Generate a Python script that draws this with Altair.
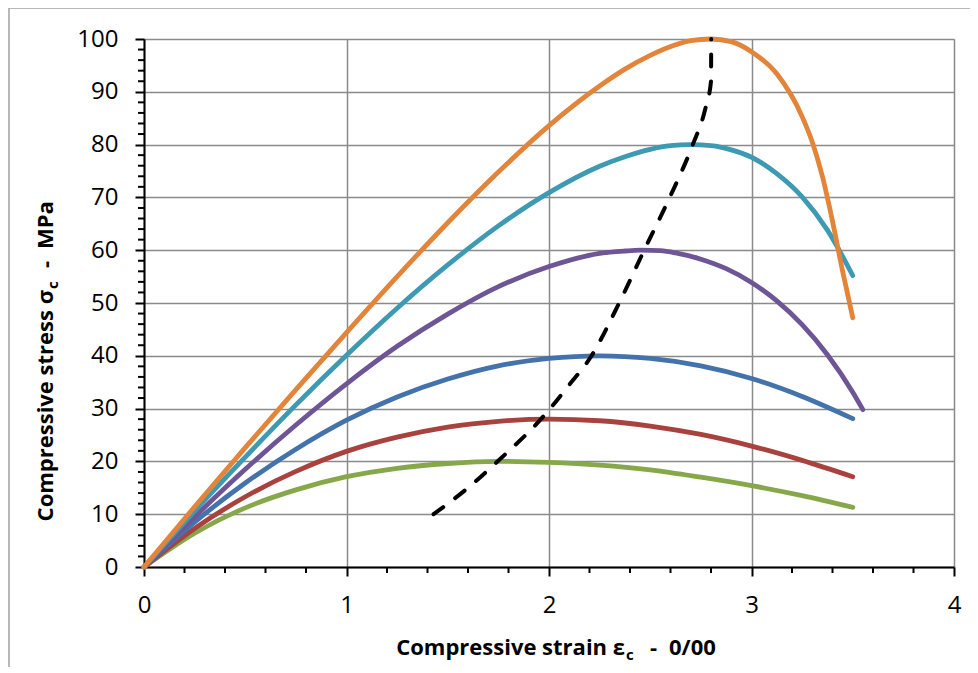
import altair as alt
import pandas as pd

# ---------------- data ----------------
strain_grid = [0, 0.25, 0.5, 0.75, 1.0, 1.25, 1.5, 1.75, 2.0, 2.25, 2.5, 2.75, 3.0, 3.25, 3.5]

green_x = strain_grid
green_y = [0, 6.4, 11.2, 14.6, 17.1, 18.7, 19.6, 20.0, 19.8, 19.3, 18.4, 17.0, 15.4, 13.5, 11.3]

red_x = strain_grid
red_y = [0, 7.3, 13.3, 18.1, 21.9, 24.6, 26.5, 27.6, 28.0, 27.7, 26.7, 25.1, 22.9, 20.2, 17.1]

blue_x = strain_grid
blue_y = [0, 8.5, 15.9, 22.3, 27.8, 32.2, 35.6, 38.1, 39.5, 40.0, 39.5, 38.1, 35.7, 32.3, 28.1]

purple_x = [0, 0.25, 0.5, 0.75, 1.0, 1.25, 1.5, 1.75, 2.0, 2.25, 2.375, 2.45, 2.55, 2.625, 2.75,
            2.875, 3.0, 3.125, 3.25, 3.375, 3.5, 3.55]
purple_y = [0, 9.5, 18.5, 26.9, 34.7, 41.8, 47.9, 53.1, 56.9, 59.4, 59.85, 60.0, 59.9, 59.5, 58.3,
            56.5, 53.9, 50.4, 45.9, 40.2, 33.1, 29.8]

teal_x = [0, 0.25, 0.5, 0.75, 1.0, 1.25, 1.5, 1.75, 2.0, 2.25, 2.375, 2.5, 2.6, 2.7, 2.8,
          2.9, 3.0, 3.125, 3.25, 3.375, 3.5]
teal_y = [0, 10.6, 20.8, 30.7, 40.1, 49.0, 57.2, 64.6, 70.9, 75.9, 77.7, 79.1, 79.8, 80.0, 79.8,
          79.0, 77.6, 74.5, 70.1, 63.8, 55.2]

orange_x = [0, 0.25, 0.5, 0.75, 1.0, 1.25, 1.5, 1.75, 2.0, 2.25, 2.375, 2.5, 2.625, 2.7, 2.8,
            2.9, 3.0, 3.125, 3.25, 3.3, 3.35, 3.4, 3.45, 3.5]
orange_y = [0, 11.4, 22.6, 33.6, 44.4, 55.0, 65.2, 74.8, 83.6, 91.1, 94.3, 96.9, 98.9, 99.7, 100.0,
            99.5, 97.6, 93.4, 85.3, 80.5, 74.0, 65.5, 56.0, 47.2]

peak_x = [1.43, 1.60, 1.76, 1.96, 2.10, 2.21, 2.34, 2.47, 2.59, 2.71, 2.77, 2.80, 2.801]
peak_y = [10, 15, 20.5, 28, 34.5, 40, 49.5, 60, 69.5, 80, 86.5, 92, 100]

series_names = ["20 MPa", "28 MPa", "40 MPa", "60 MPa", "80 MPa", "100 MPa"]
series_colors = ["#86A84A", "#A8423E", "#4472AA", "#6E5596", "#3E9AB2", "#E2843A"]
series_data = [(green_x, green_y), (red_x, red_y), (blue_x, blue_y),
               (purple_x, purple_y), (teal_x, teal_y), (orange_x, orange_y)]

x_major = [0, 1, 2, 3, 4]
y_major = [0, 10, 20, 30, 40, 50, 60, 70, 80, 90, 100]
x_minor = [round(i * 0.2, 1) for i in range(1, 20) if i % 5]
y_minor = [i * 2 for i in range(1, 50) if i % 5]

# ---------------- tables ----------------
rows = []
for name, (xs, ys) in zip(series_names, series_data):
    for i, (xv, yv) in enumerate(zip(xs, ys)):
        rows.append({"series": name, "strain": xv, "stress": yv, "i": i})
curves_df = pd.DataFrame(rows)
peak_df = pd.DataFrame({"strain": peak_x, "stress": peak_y, "i": list(range(len(peak_x)))})
xminor_df = pd.DataFrame({"strain": x_minor})
yminor_df = pd.DataFrame({"stress": y_minor})

W, H = 810, 528
FONT = "Open Sans"

xscale = alt.Scale(domain=[0, 4], nice=False, zero=False)
yscale = alt.Scale(domain=[0, 100], nice=False, zero=False)

common_axis = dict(
    title=None, grid=True, gridColor="#8a8a8a", gridWidth=1.5,
    domainColor="black", domainWidth=2, tickColor="black", tickWidth=2,
    tickSize=9, labelFont=FONT, labelFontSize=24, labelColor="black",
    labelFlush=False, labelOverlap=False, format="d",
)
xaxis = alt.Axis(values=x_major, labelPadding=17, **common_axis)
yaxis = alt.Axis(values=y_major, labelPadding=17, **common_axis)

X = alt.X("strain:Q", scale=xscale, axis=xaxis)
Y = alt.Y("stress:Q", scale=yscale, axis=yaxis)

curves = alt.Chart(curves_df).mark_line(
    strokeWidth=4.8, strokeCap="round", strokeJoin="round", interpolate="monotone"
).encode(
    x=X, y=Y,
    color=alt.Color("series:N", scale=alt.Scale(domain=series_names, range=series_colors), legend=None),
    order=alt.Order("i:Q"),
)

peak_line = alt.Chart(peak_df).mark_line(
    color="black", strokeWidth=4, strokeDash=[12, 15], strokeCap="round",
    interpolate="monotone",
).encode(x=X, y=Y, order=alt.Order("i:Q"))

xminor = alt.Chart(xminor_df).mark_rule(color="black", strokeWidth=2).encode(
    x=X, y=alt.value(H), y2=alt.value(H + 6),
)
yminor = alt.Chart(yminor_df).mark_rule(color="black", strokeWidth=2).encode(
    y=Y, x=alt.value(-6), x2=alt.value(0),
)

one = pd.DataFrame({"k": [0]})
frame_left = alt.Chart(one).mark_rule(color="#a0a0a0", strokeWidth=1.5).encode(
    x=alt.value(-135), y=alt.value(-31), y2=alt.value(700))
frame_top = alt.Chart(one).mark_rule(color="#a0a0a0", strokeWidth=1.5).encode(
    x=alt.value(-135), x2=alt.value(900), y=alt.value(-31))


def txt(s, x, y, size=22, align="left", angle=0):
    return alt.Chart(one).mark_text(
        text=s, font=FONT, fontSize=size, fontWeight="bold", color="black",
        align=align, baseline="alphabetic", angle=angle,
    ).encode(x=alt.value(x), y=alt.value(y))


titles = [
    txt("Compressive strain ε", 481, 616, align="right"),
    txt("c", 482, 621, size=15),
    txt("-", 506, 616),
    txt("0/00", 525, 616),
    txt("Compressive stress σ", -91, 251, align="right", angle=270),
    txt("c", -86, 250, size=15, angle=270),
    txt("-", -91, 229, angle=270),
    txt("MPa", -91, 210, angle=270),
]

chart = alt.layer(
    frame_left, frame_top, curves, peak_line, xminor, yminor, *titles
).properties(
    width=W, height=H,
    autosize=alt.AutoSizeParams(type="none"),
    padding={"left": 136, "top": 31, "right": 16, "bottom": 100},
).configure_view(stroke=None).configure(background="white")

chart.save("out.html", embed_options={"renderer": "svg", "actions": False})
